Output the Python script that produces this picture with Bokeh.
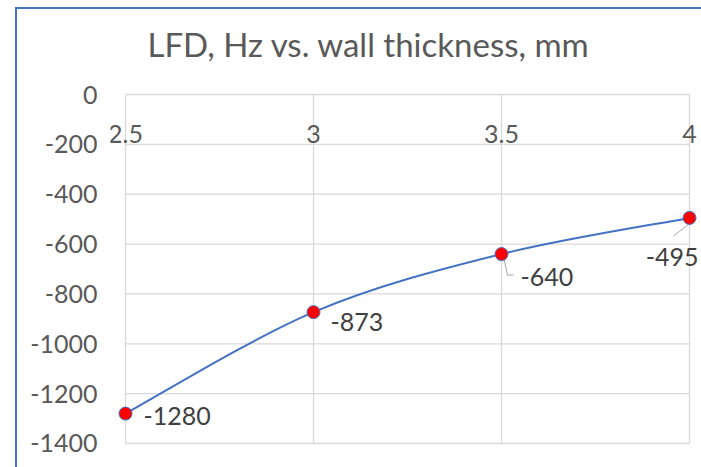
from bokeh.plotting import figure
from bokeh.models import ColumnDataSource, Range1d, FixedTicker
from bokeh.embed import file_html
from bokeh.resources import INLINE
from bokeh.core.properties import value

# ---- data ----
thickness = [2.5, 3.0, 3.5, 4.0]
lfd = [-1280, -873, -640, -495]
x_ticks = [2.5, 3, 3.5, 4]
x_tick_labels = ["2.5", "3", "3.5", "4"]
y_ticks = [0, -200, -400, -600, -800, -1000, -1200, -1400]
y_tick_labels = ["0", "-200", "-400", "-600", "-800", "-1000", "-1200", "-1400"]
title_text = "LFD, Hz vs. wall thickness, mm"

# ---- layout constants ----
W, H = 701, 467
BL, BT = 110, 80
FW, FH = W - BL, H - BT
xr = Range1d(2.5 - 0.0399, 4.0 + 0.0319)
yr = Range1d(-1496.3, 56.2)
px_x = (xr.end - xr.start) / FW   # data units per px
px_y = (yr.end - yr.start) / FH

FONT = "Lato"
GRAY = "#595959"
GRID = "#d9d9d9"
BLUE = "#4472C4"

p = figure(width=W, height=H, output_backend="svg", toolbar_location=None,
           x_range=xr, y_range=yr, x_axis_location="above", y_axis_location="left",
           min_border_left=BL, min_border_right=0, min_border_top=BT, min_border_bottom=0,
           title=title_text)
p.outline_line_color = None
p.background_fill_color = "white"
p.border_fill_alpha = 0
# outer chart border (blue), drawn behind the transparent canvas border area
p.styles = {
    "background-color": "white",
    "background-image": f"linear-gradient({BLUE},{BLUE}), linear-gradient({BLUE},{BLUE})",
    "background-size": f"2px {H - 7}px, {W - 15}px 2px",
    "background-position": "15px 7px, 15px 7px",
    "background-repeat": "no-repeat, no-repeat",
    "overflow": "hidden",
}

# title
p.title.align = "left"
p.title.offset = 37
p.title.standoff = 34
p.title.text_font = FONT
p.title.text_font_size = "33px"
p.title.text_font_style = "normal"
p.title.text_color = GRAY

# axes
p.xaxis.fixed_location = 0
p.xaxis.ticker = FixedTicker(ticks=x_ticks)
p.xaxis.major_label_overrides = {t: l for t, l in zip(x_ticks, x_tick_labels)}
p.xaxis.axis_line_color = None
p.xaxis.major_tick_line_color = None
p.xaxis.minor_tick_line_color = None
p.xaxis.major_tick_out = 0
p.xaxis.major_tick_in = 0
p.xaxis.major_label_standoff = -48
p.xaxis.major_label_text_font = FONT
p.xaxis.major_label_text_font_size = "25px"
p.xaxis.major_label_text_color = GRAY

p.yaxis.ticker = FixedTicker(ticks=y_ticks)
p.yaxis.major_label_overrides = {t: l for t, l in zip(y_ticks, y_tick_labels)}
p.yaxis.axis_line_color = None
p.yaxis.major_tick_line_color = None
p.yaxis.minor_tick_line_color = None
p.yaxis.major_tick_out = 0
p.yaxis.major_tick_in = 0
p.yaxis.major_label_standoff = 13
p.yaxis.major_label_text_font = FONT
p.yaxis.major_label_text_font_size = "25px"
p.yaxis.major_label_text_color = GRAY

# gridlines limited to the plot area
p.xgrid.visible = False
p.ygrid.visible = False
gx0 = list(x_ticks) + [min(x_ticks)] * len(y_ticks)
gx1 = list(x_ticks) + [max(x_ticks)] * len(y_ticks)
gy0 = [min(y_ticks)] * len(x_ticks) + list(y_ticks)
gy1 = [max(y_ticks)] * len(x_ticks) + list(y_ticks)
p.segment(x0=gx0, y0=gy0, x1=gx1, y1=gy1, line_color=GRID, line_width=1.3)

# smoothed line (Catmull-Rom style Bezier through the points)
n = len(thickness)
bz = dict(x0=[], y0=[], x1=[], y1=[], cx0=[], cy0=[], cx1=[], cy1=[])
for i in range(n - 1):
    pm = max(i - 1, 0)
    pp = min(i + 2, n - 1)
    bz["x0"].append(thickness[i]); bz["y0"].append(lfd[i])
    bz["x1"].append(thickness[i + 1]); bz["y1"].append(lfd[i + 1])
    bz["cx0"].append(thickness[i] + (thickness[i + 1] - thickness[pm]) / 6)
    bz["cy0"].append(lfd[i] + (lfd[i + 1] - lfd[pm]) / 6)
    bz["cx1"].append(thickness[i + 1] - (thickness[pp] - thickness[i]) / 6)
    bz["cy1"].append(lfd[i + 1] - (lfd[pp] - lfd[i]) / 6)
p.bezier(x0="x0", y0="y0", x1="x1", y1="y1", cx0="cx0", cy0="cy0", cx1="cx1", cy1="cy1",
         source=ColumnDataSource(bz), line_color=BLUE, line_width=2)

# leader lines for two labels (offsets in px from the point)
leaders = {2: [(2, 3), (6, 21), (12, 21)], 3: [(1, 5), (-16, 18)]}
lx, ly = [], []
for idx, pts in leaders.items():
    lx.append([thickness[idx] + dx * px_x for dx, dy in pts])
    ly.append([lfd[idx] - dy * px_y for dx, dy in pts])
p.multi_line(xs=lx, ys=ly, line_color="#a6a6a6", line_width=1)

# markers
src = ColumnDataSource(dict(
    x=thickness, y=lfd, lab=[str(v) for v in lfd],
    xo=[18, 17, 19, 9], yo=[2, 10, 23, 39],
    al=["left", "left", "left", "right"],
))
p.scatter("x", "y", source=src, size=13, fill_color="#ff0000", line_color=BLUE, line_width=1)

# data labels
p.text("x", "y", text="lab", source=src, x_offset="xo", y_offset="yo", text_align="al",
       text_baseline="middle", text_font=value(FONT), text_font_size="25px", text_color="#404040")

open("out.html", "w").write(file_html(p, INLINE))
